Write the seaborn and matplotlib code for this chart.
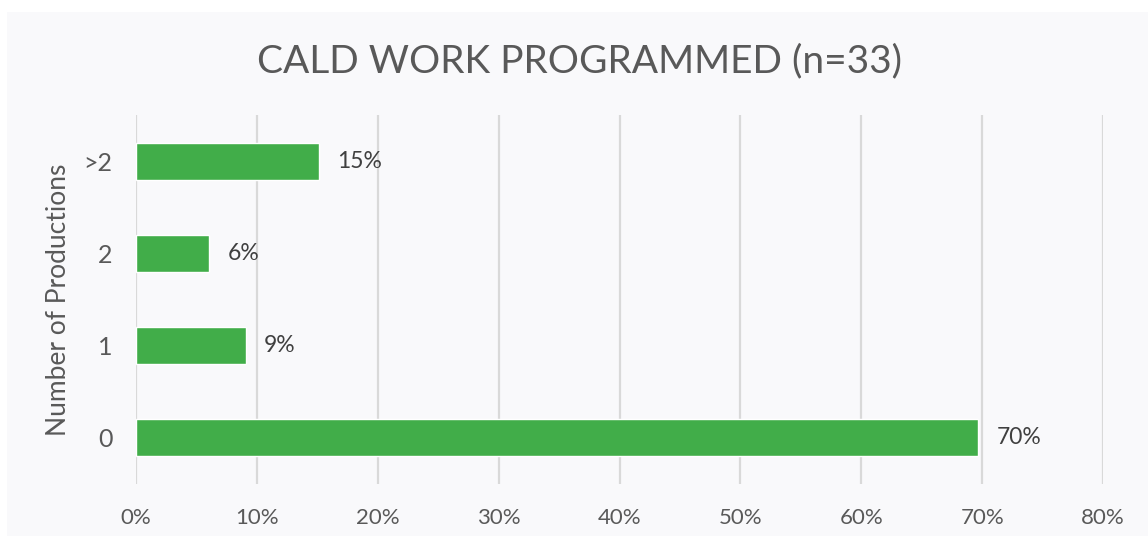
import matplotlib
matplotlib.use("Agg")
import matplotlib.pyplot as plt
import matplotlib.patches as mpatches
from matplotlib.ticker import PercentFormatter, MultipleLocator
import seaborn as sns
import pandas as pd

# Survey responses: number of CALD productions programmed (n=33)
categories = ["0", "1", "2", ">2"]
counts = [23, 3, 2, 5]
n_total = 33
shares = [c / n_total for c in counts]

title = "CALD WORK PROGRAMMED (n=33)"
y_label = "Number of Productions"

sns.set_theme(style="white")
plt.rcParams["font.family"] = ["Lato", "DejaVu Sans"]

df = pd.DataFrame({"category": categories, "share": shares})
order = categories[::-1]  # ">2" at the top, "0" at the bottom

fig = plt.figure(figsize=(11.48, 5.36), dpi=100)
fig.patch.set_facecolor("white")
# light panel behind the whole chart
fig.patches.append(mpatches.Rectangle((7 / 1148, 0), 1, 1 - 12 / 536,
                                      transform=fig.transFigure,
                                      facecolor="#F9F9FB", edgecolor="none", zorder=-10))

ax = fig.add_axes([136 / 1148, 1 - 484 / 536, (1103 - 136) / 1148, (484 - 115) / 536])
ax.set_facecolor("none")

sns.barplot(data=df, x="share", y="category", order=order, orient="h",
            color="#41AD49", saturation=1, width=0.4, ax=ax, zorder=3)

ax.set_xlim(0, 0.8)
ax.xaxis.set_major_locator(MultipleLocator(0.1))
ax.xaxis.set_major_formatter(PercentFormatter(1.0, decimals=0))
ax.grid(axis="x", color="#D9D9D9", linewidth=1.6, zorder=0)
ax.grid(axis="y", visible=False)
ax.set_axisbelow(True)
for s in ax.spines.values():
    s.set_visible(False)

ax.tick_params(axis="x", length=0, pad=17, labelsize=16, labelcolor="#595959")
ax.tick_params(axis="y", length=0, pad=17, labelsize=18, labelcolor="#595959")
ax.set_xlabel("")
ax.set_ylabel(y_label, fontsize=19, color="#595959", labelpad=9)

for container in ax.containers:
    ax.bar_label(container, labels=[f"{v * 100:.0f}%" for v in container.datavalues],
                 padding=13, fontsize=16.5, color="#404040")

fig.text(0.505, 1 - 61 / 536, title, ha="center", va="center",
         fontsize=28, color="#595959")

fig.savefig("out.png", dpi=100, facecolor=fig.get_facecolor())
